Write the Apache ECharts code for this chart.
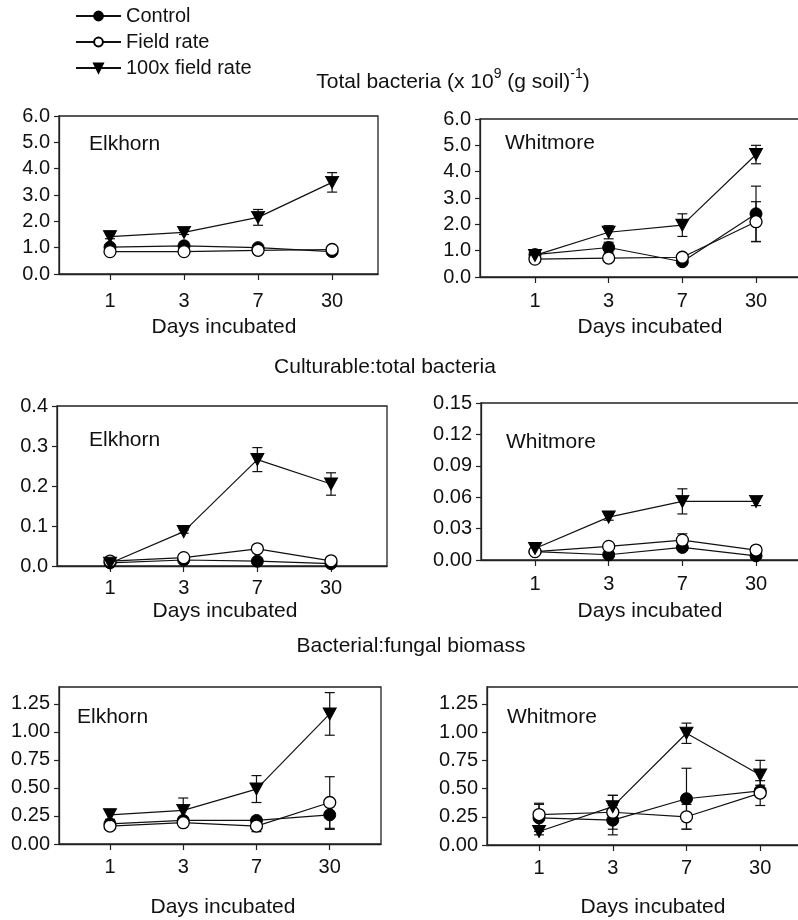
<!DOCTYPE html>
<html>
<head>
<meta charset="utf-8">
<script src="https://cdn.jsdelivr.net/npm/echarts@6/dist/echarts.min.js"></script>
<style>html,body{margin:0;padding:0;background:#fff}#c{width:798px;height:920px}</style>
</head>
<body>
<div id="c"></div>
<script>
// ---- data ----
const days = ['1', '3', '7', '30'];
const seriesNames = ['Control', 'Field rate', '100x field rate'];

// Total bacteria, Elkhorn
const elkTotCtrl = [1.02, 1.07, 1.00, 0.85];
const elkTotCtrlErr = [0.05, 0.05, 0.05, 0.05];
const elkTotField = [0.85, 0.85, 0.90, 0.93];
const elkTotFieldErr = [0.04, 0.04, 0.05, 0.05];
const elkTotHigh = [1.42, 1.58, 2.15, 3.48];
const elkTotHighErr = [0.08, 0.08, 0.30, 0.37];
// Total bacteria, Whitmore
const whiTotCtrl = [0.85, 1.12, 0.58, 2.40];
const whiTotCtrlErr = [0.05, 0.20, 0.05, 1.05];
const whiTotField = [0.68, 0.72, 0.75, 2.10];
const whiTotFieldErr = [0.05, 0.05, 0.05, 0.76];
const whiTotHigh = [0.82, 1.70, 1.97, 4.65];
const whiTotHighErr = [0.05, 0.25, 0.43, 0.35];
// Culturable:total, Elkhorn
const elkCulCtrl = [0.008, 0.015, 0.012, 0.006];
const elkCulCtrlErr = [0.001, 0.001, 0.002, 0.001];
const elkCulField = [0.012, 0.021, 0.043, 0.013];
const elkCulFieldErr = [0.001, 0.002, 0.003, 0.001];
const elkCulHigh = [0.007, 0.086, 0.266, 0.205];
const elkCulHighErr = [0.002, 0.004, 0.030, 0.028];
// Culturable:total, Whitmore
const whiCulCtrl = [0.008, 0.005, 0.012, 0.004];
const whiCulCtrlErr = [0.001, 0.001, 0.002, 0.001];
const whiCulField = [0.008, 0.013, 0.019, 0.0095];
const whiCulFieldErr = [0.001, 0.001, 0.006, 0.001];
const whiCulHigh = [0.011, 0.041, 0.056, 0.056];
const whiCulHighErr = [0.001, 0.003, 0.012, 0.004];
// Bacterial:fungal, Elkhorn
const elkBfCtrl = [0.18, 0.21, 0.21, 0.26];
const elkBfCtrlErr = [0.02, 0.02, 0.02, 0.13];
const elkBfField = [0.16, 0.19, 0.16, 0.37];
const elkBfFieldErr = [0.02, 0.02, 0.05, 0.23];
const elkBfHigh = [0.26, 0.30, 0.49, 1.16];
const elkBfHighErr = [0.04, 0.11, 0.12, 0.19];
// Bacterial:fungal, Whitmore
const whiBfCtrl = [0.24, 0.22, 0.41, 0.48];
const whiBfCtrlErr = [0.12, 0.13, 0.27, 0.05];
const whiBfField = [0.27, 0.29, 0.25, 0.46];
const whiBfFieldErr = [0.10, 0.15, 0.11, 0.11];
const whiBfHigh = [0.12, 0.34, 0.99, 0.62];
const whiBfHighErr = [0.03, 0.10, 0.09, 0.13];

const yTicksTotal = [0, 1, 2, 3, 4, 5, 6];
const yTicksCulElk = [0, 0.1, 0.2, 0.3, 0.4];
const yTicksCulWhi = [0, 0.03, 0.06, 0.09, 0.12, 0.15];
const yTicksBf = [0, 0.25, 0.5, 0.75, 1.0, 1.25];

// ---- layout ----
const panels = [
  {grid: {left: 59, top: 116, width: 319, height: 158}, xmin: -0.689, xmax: 3.62, ymax: 6, yt: yTicksTotal, dec: 1, lm: 17,
   d: [[elkTotCtrl, elkTotCtrlErr], [elkTotField, elkTotFieldErr], [elkTotHigh, elkTotHighErr]]},
  {grid: {left: 480, top: 119, width: 320, height: 158}, xmin: -0.746, xmax: 3.597, ymax: 6, yt: yTicksTotal, dec: 1, lm: 14,
   d: [[whiTotCtrl, whiTotCtrlErr], [whiTotField, whiTotFieldErr], [whiTotHigh, whiTotHighErr]]},
  {grid: {left: 57, top: 406, width: 330, height: 160}, xmin: -0.72, xmax: 3.76, ymax: 0.4, yt: yTicksCulElk, dec: 1, lm: 12,
   d: [[elkCulCtrl, elkCulCtrlErr], [elkCulField, elkCulFieldErr], [elkCulHigh, elkCulHighErr]]},
  {grid: {left: 481, top: 403, width: 320, height: 157}, xmin: -0.733, xmax: 3.61, ymax: 0.15, yt: yTicksCulWhi, dec: 2, lm: 14,
   d: [[whiCulCtrl, whiCulCtrlErr], [whiCulField, whiCulFieldErr], [whiCulHigh, whiCulHighErr]]},
  {grid: {left: 59, top: 687, width: 322, height: 157}, xmin: -0.696, xmax: 3.70, ymax: 1.4, yt: yTicksBf, dec: 2, lm: 13,
   d: [[elkBfCtrl, elkBfCtrlErr], [elkBfField, elkBfFieldErr], [elkBfHigh, elkBfHighErr]]},
  {grid: {left: 487, top: 687, width: 313, height: 158}, xmin: -0.706, xmax: 3.54, ymax: 1.4, yt: yTicksBf, dec: 2, lm: 13,
   d: [[whiBfCtrl, whiBfCtrlErr], [whiBfField, whiBfFieldErr], [whiBfHigh, whiBfHighErr]]}
];

const FONT = 'Liberation Sans, Arial, sans-serif';
const INK = '#111';
const tri = 'path://M0,0 L10,0 L5,9 Z';
const markerStyles = [
  {symbol: 'circle', symbolSize: 12, itemStyle: {color: '#000', borderColor: '#000', borderWidth: 1}},
  {symbol: 'circle', symbolSize: 12, itemStyle: {color: '#fff', borderColor: '#000', borderWidth: 1.3}},
  {symbol: tri, symbolSize: [13, 12], itemStyle: {color: '#000', borderColor: '#000', borderWidth: 1}}
];
const tickIdx = days.map((d, i) => i);

const grids = [], xAxes = [], yAxes = [], series = [];
panels.forEach((p, k) => {
  grids.push(Object.assign({show: true, borderColor: '#222', borderWidth: 1.3, backgroundColor: 'transparent',
    containLabel: false, outerBoundsMode: 'none'}, p.grid));
  xAxes.push({
    gridIndex: k, type: 'value', min: p.xmin, max: p.xmax,
    axisLine: {show: true, onZero: false, lineStyle: {color: '#222', width: 1.3}},
    axisTick: {show: true, inside: false, length: 6, customValues: tickIdx, lineStyle: {color: '#222', width: 1.2}},
    axisLabel: {customValues: tickIdx, formatter: v => days[Math.round(v)], margin: p.lm,
      fontSize: 20, fontFamily: FONT, color: INK},
    splitLine: {show: false}
  });
  yAxes.push({
    gridIndex: k, type: 'value', min: 0, max: p.ymax,
    axisLine: {show: true, onZero: false, lineStyle: {color: '#222', width: 1.3}},
    axisTick: {show: true, inside: false, length: 5, customValues: p.yt, lineStyle: {color: '#222', width: 1.2}},
    axisLabel: {customValues: p.yt, formatter: v => Number(v).toFixed(p.dec), margin: 9,
      fontSize: 20, fontFamily: FONT, color: INK},
    splitLine: {show: false}
  });
  // error bars
  const ebData = [];
  p.d.forEach(([m, e]) => m.forEach((v, i) => ebData.push([i, v - e[i], v + e[i]])));
  series.push({
    type: 'custom', xAxisIndex: k, yAxisIndex: k, z: 1, silent: true,
    encode: {x: 0, y: [1, 2]},
    data: ebData,
    renderItem: (params, api) => {
      const x = api.value(0);
      const top = api.coord([x, api.value(2)]);
      const bot = api.coord([x, api.value(1)]);
      const w = 5;
      const st = {stroke: '#111', lineWidth: 1.2};
      return {type: 'group', children: [
        {type: 'line', shape: {x1: top[0], y1: top[1], x2: bot[0], y2: bot[1]}, style: st},
        {type: 'line', shape: {x1: top[0] - w, y1: top[1], x2: top[0] + w, y2: top[1]}, style: st},
        {type: 'line', shape: {x1: bot[0] - w, y1: bot[1], x2: bot[0] + w, y2: bot[1]}, style: st}
      ]};
    }
  });
  p.d.forEach(([m], s) => {
    series.push(Object.assign({
      name: seriesNames[s], type: 'line', xAxisIndex: k, yAxisIndex: k, z: 3 + s,
      data: m.map((v, i) => [i, v]),
      lineStyle: {color: '#111', width: 1.2},
      showAllSymbol: true
    }, markerStyles[s]));
  });
});

const txt = (x, y, text, align) => ({type: 'text', x: x, y: y, silent: true,
  style: {text: text, font: '21px ' + FONT, fill: INK, align: align || 'center', verticalAlign: 'middle'}});

const graphics = [
  {type: 'text', x: 453, y: 82, silent: true, style: {
    text: '{a|Total bacteria (x 10}{s|9}{a| (g soil)}{s|-1}{a|)}',
    align: 'center', verticalAlign: 'middle', fill: INK,
    rich: {
      a: {fontSize: 21, fontFamily: FONT, color: INK, lineHeight: 30},
      s: {fontSize: 14, fontFamily: FONT, color: INK, lineHeight: 14, verticalAlign: 'top'}
    }}},
  txt(385, 367, 'Culturable:total bacteria'),
  txt(411, 646, 'Bacterial:fungal biomass'),
  txt(224, 327, 'Days incubated'), txt(650, 327, 'Days incubated'),
  txt(225, 611, 'Days incubated'), txt(650, 611, 'Days incubated'),
  txt(223, 907, 'Days incubated'), txt(653, 907, 'Days incubated'),
  txt(89, 144, 'Elkhorn', 'left'), txt(505, 143, 'Whitmore', 'left'),
  txt(89, 440, 'Elkhorn', 'left'), txt(506, 442, 'Whitmore', 'left'),
  txt(77, 717, 'Elkhorn', 'left'), txt(507, 717, 'Whitmore', 'left')
];

const chart = echarts.init(document.getElementById('c'), null, {renderer: 'canvas'});
chart.setOption({
  animation: false,
  backgroundColor: '#fff',
  legend: {
    data: seriesNames, orient: 'vertical', left: 70, top: 1,
    itemWidth: 45, itemHeight: 11, itemGap: 6,
    textStyle: {fontSize: 20, fontFamily: FONT, color: INK},
    selectedMode: false
  },
  grid: grids, xAxis: xAxes, yAxis: yAxes, series: series,
  graphic: graphics
});
</script>
</body>
</html>
